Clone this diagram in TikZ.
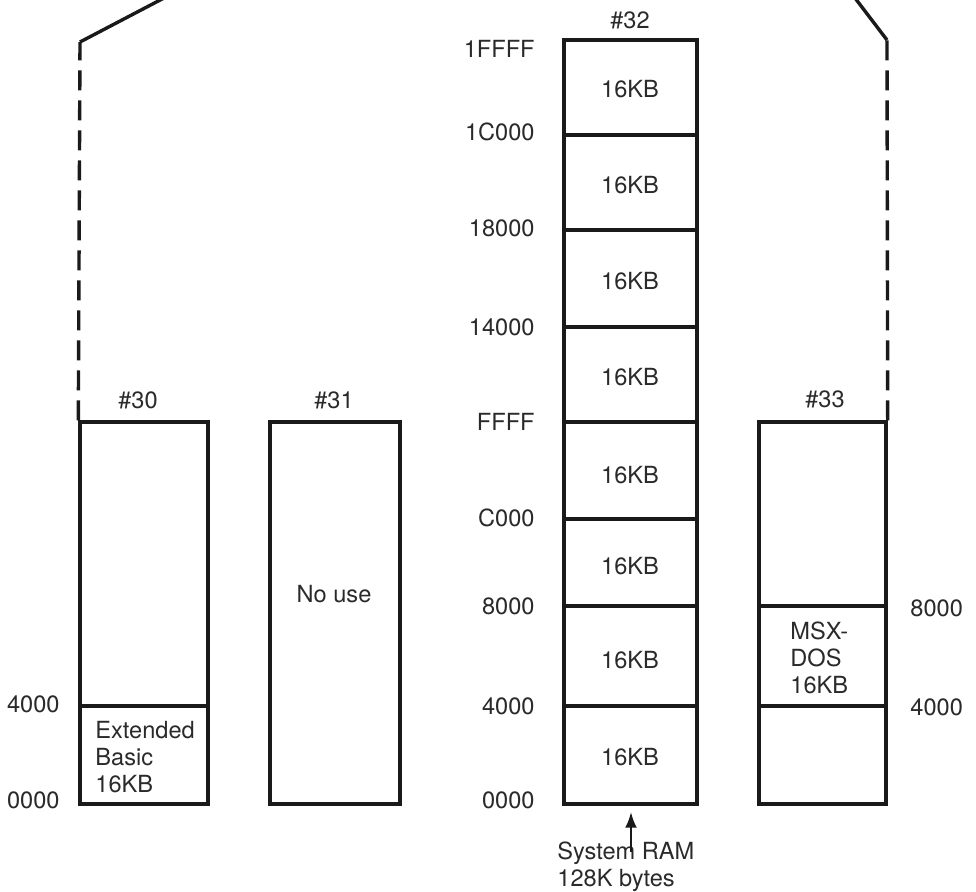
\documentclass[tikz,border=0pt]{standalone}
\usepackage{fontspec}
\setmainfont{TeX Gyre Heros}
\usetikzlibrary{fit,arrows.meta}
\definecolor{ink}{HTML}{1A1A1A}
\definecolor{txt}{HTML}{2A2A2A}
\begin{document}
\begin{tikzpicture}[x=0.5pt,y=-0.5pt,
  txtfont/.style={font=\fontsize{11.8}{13.5}\selectfont, text=txt},
  seg/.style={draw=ink, line width=1.7pt, inner sep=0pt, fit={#1}},
  lbl/.style={inner sep=0pt, txtfont},
  ln/.style={draw=ink, line width=1.7pt},
  dashln/.style={draw=ink, line width=1.7pt, dash pattern=on 10pt off 5pt},
  arr/.style={draw=ink, line width=1.4pt, -{Latex[length=8pt,width=6pt]}, shorten >=3pt}]
\path[use as bounding box] (0,0) rectangle (976,891);
\clip (0,0) rectangle (976,891);

% bank #30
\node[seg={(80,422) (208,706)}] (s30a) {};
\node[seg={(80,706) (208,804)}] (s30b) {};
\node[lbl, anchor=north west, align=left] (t30) at (95,721) {Extended\\Basic\\16KB};
\node[lbl] (h30) at (138,400) {\#30};
\node[lbl, anchor=east] (a30a) at (60,704) {4000};
\node[lbl, anchor=east] (a30b) at (60,800) {0000};

% bank #31
\node[seg={(270,422) (400,804)}] (s31) {};
\node[lbl] (t31) at (334,594) {No use};
\node[lbl] (h31) at (334,400) {\#31};

% bank #32
\node[seg={(564,40) (697,135)}] (s32a) {};
\node[seg={(564,135) (697,230)}] (s32b) {};
\node[seg={(564,230) (697,327)}] (s32c) {};
\node[seg={(564,327) (697,422)}] (s32d) {};
\node[seg={(564,422) (697,519)}] (s32e) {};
\node[seg={(564,519) (697,606)}] (s32f) {};
\node[seg={(564,606) (697,706)}] (s32g) {};
\node[seg={(564,706) (697,804)}] (s32h) {};
\node[lbl] (k32a) at (630,89) {16KB};
\node[lbl] (k32b) at (630,185) {16KB};
\node[lbl] (k32c) at (630,281) {16KB};
\node[lbl] (k32d) at (630,377) {16KB};
\node[lbl] (k32e) at (630,475) {16KB};
\node[lbl] (k32f) at (630,566) {16KB};
\node[lbl] (k32g) at (630,660) {16KB};
\node[lbl] (k32h) at (630,757) {16KB};
\node[lbl] (h32) at (630,20) {\#32};
\node[lbl, anchor=east] (a32a) at (535,49) {1FFFF};
\node[lbl, anchor=east] (a32b) at (535,132) {1C000};
\node[lbl, anchor=east] (a32c) at (535,228) {18000};
\node[lbl, anchor=east] (a32d) at (535,327) {14000};
\node[lbl, anchor=east] (a32e) at (535,422) {FFFF};
\node[lbl, anchor=east] (a32f) at (535,518) {C000};
\node[lbl, anchor=east] (a32g) at (535,606) {8000};
\node[lbl, anchor=east] (a32h) at (535,706) {4000};
\node[lbl, anchor=east] (a32i) at (535,800) {0000};

% bank #33
\node[seg={(759,422) (886,606)}] (s33a) {};
\node[seg={(759,606) (886,706)}] (s33b) {};
\node[seg={(759,706) (886,804)}] (s33c) {};
\node[lbl, anchor=north west, align=left] (t33) at (790,621) {MSX-\\DOS\\16KB};
\node[lbl] (h33) at (825,399) {\#33};
\node[lbl, anchor=west] (a33a) at (910,608) {8000};
\node[lbl, anchor=west] (a33b) at (910,707) {4000};

% expansion lines
\coordinate (tl) at (80,42);
\coordinate (tlx) at (164,-2);
\coordinate (tr) at (887,40);
\coordinate (trx) at (855,-2);
\draw[dashln] (s30a.north west) -- (tl);
\draw[ln] (tl) -- (tlx);
\draw[dashln] (s33a.north east) -- (tr);
\draw[ln] (tr) -- (trx);

% system RAM
\node[lbl, anchor=north west, align=left] (ram) at (557,841) {System RAM\\128K bytes};
\coordinate (at) at (631,852);
\draw[arr] (at) -- (at |- s32h.south);
\end{tikzpicture}
\end{document}
